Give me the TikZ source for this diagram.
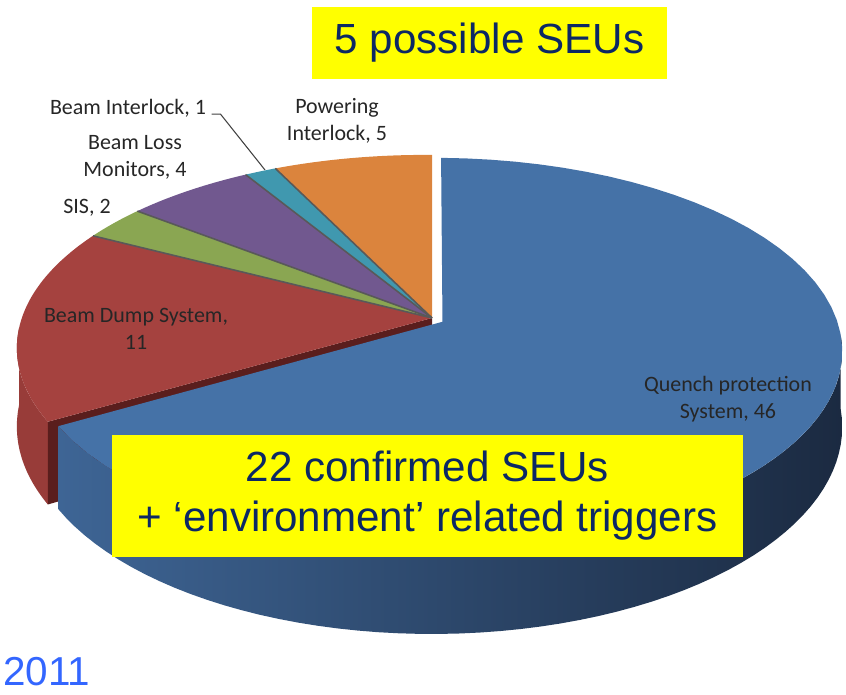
\documentclass[tikz,border=0pt]{standalone}
\usepackage{fontspec}
\setmainfont{Liberation Sans}
\newfontfamily\lblfont{Carlito}
\usepackage{xcolor}
\usepackage{tikz}

\definecolor{qpsTop}{RGB}{69,114,167}
\definecolor{qpsSideL}{RGB}{62,101,149}
\definecolor{qpsSideR}{RGB}{27,42,65}
\definecolor{bdsTop}{RGB}{165,66,63}
\definecolor{bdsSide}{RGB}{152,60,57}
\definecolor{bdsWall}{RGB}{90,30,29}
\definecolor{sisTop}{RGB}{138,166,82}
\definecolor{blmTop}{RGB}{113,88,143}
\definecolor{biTop}{RGB}{64,152,175}
\definecolor{piTop}{RGB}{219,132,61}
\definecolor{seuYel}{RGB}{255,255,0}
\definecolor{seuNavy}{RGB}{12,40,100}
\definecolor{yearBlue}{RGB}{51,102,255}

\tikzset{
  declare function={
    dn(\x,\y)=1+0.153*\y+0.02*\x;
    rx(\x,\y)=432+402*\x/dn(\x,\y);
    ry(\x,\y)=318-188*\y/dn(\x,\y);
    hz(\x,\y)=75/dn(\x,\y);
    tx(\x,\y)=rx(cos(\x)+0.026*\y,sin(\x)-0.02*\y);
    ty(\x,\y)=ry(cos(\x)+0.026*\y,sin(\x)-0.02*\y);
    by(\x,\y)=ty(\x,\y)+hz(cos(\x)+0.026*\y,sin(\x)-0.02*\y);
  },
  lbl/.style={font=\lblfont\fontsize{12.5}{15.4}\selectfont,text=black!85,align=center,inner sep=0pt},
  seubox/.style={fill=seuYel,text=seuNavy,font=\fontsize{24}{28.5}\selectfont,align=center,inner sep=0pt},
  seam/.style={draw=black!65,line width=0.9pt},
  lead/.style={draw=black!75,line width=0.6pt},
}

\begin{document}
\begin{tikzpicture}[x=0.02cm,y=-0.02cm,samples=60]
\useasboundingbox (0,0) rectangle (846,695);
\coordinate (C) at (432,318);
\coordinate (Cb) at (432,393);
\coordinate (Cq) at ({rx(0.026,-0.02)},{ry(0.026,-0.02)});

% side and cut wall of the beam dump slice
\fill[bdsSide] plot[domain=183:210,variable=\t] ({tx(\t,0)},{ty(\t,0)})
  -- plot[domain=210:183,variable=\t] ({tx(\t,0)},{by(\t,0)}) -- cycle;
\fill[bdsWall] (C) -- ({tx(210,0)},{ty(210,0)}) -- ({tx(210,0)},{by(210,0)}) -- (Cb) -- cycle;

\foreach \a/\b/\c in {90/116.1/piTop,116.1/121.3/biTop,121.3/142.2/blmTop,142.2/152.6/sisTop,152.6/210/bdsTop}
  \fill[\c] (C) -- plot[domain=\a:\b,variable=\t] ({tx(\t,0)},{ty(\t,0)}) -- cycle;
\foreach \a in {116.1,121.3,142.2,152.6}
  \draw[seam] (C) -- ({tx(\a,0)},{ty(\a,0)});

% quench protection slice, pulled out
\shade[left color=qpsSideL,right color=qpsSideR] plot[domain=210:356,variable=\t] ({tx(\t,1)},{ty(\t,1)})
  -- plot[domain=356:210,variable=\t] ({tx(\t,1)},{by(\t,1)}) -- cycle;
\fill[qpsTop] (Cq) -- plot[domain=-150:90,variable=\t] ({tx(\t,1)},{ty(\t,1)}) -- cycle;

\node[lbl] (piLbl) at (337,121) {Powering\\Interlock, 5};
\node[lbl] (biLbl) at (128,108) {Beam Interlock, 1};
\node[lbl] (blmLbl) at (135,157) {Beam Loss\\Monitors, 4};
\node[lbl] (sisLbl) at (87,208) {SIS, 2};
\node[lbl] (bdsLbl) at (136,329) {Beam Dump System,\\11};
\node[lbl] (qpsLbl) at (728,399) {Quench protection\\System, 46};
\coordinate (biTip) at (265,170);
\draw[lead] ([xshift=3pt]biLbl.base east) -- ++(9,0) -- (biTip);

\node[seubox,minimum width=7.1cm,minimum height=1.44cm] (possible) at (489.5,43) {5 possible SEUs};
\node[seubox,minimum width=12.62cm,minimum height=2.44cm] (confirmed) at (427.5,496)
  {22 confirmed SEUs\\+ ‘environment’ related triggers};
\node[text=yearBlue,font=\fontsize{23}{28}\selectfont,anchor=base west,inner sep=0pt] (year) at (3,686) {2011};
\end{tikzpicture}
\end{document}
